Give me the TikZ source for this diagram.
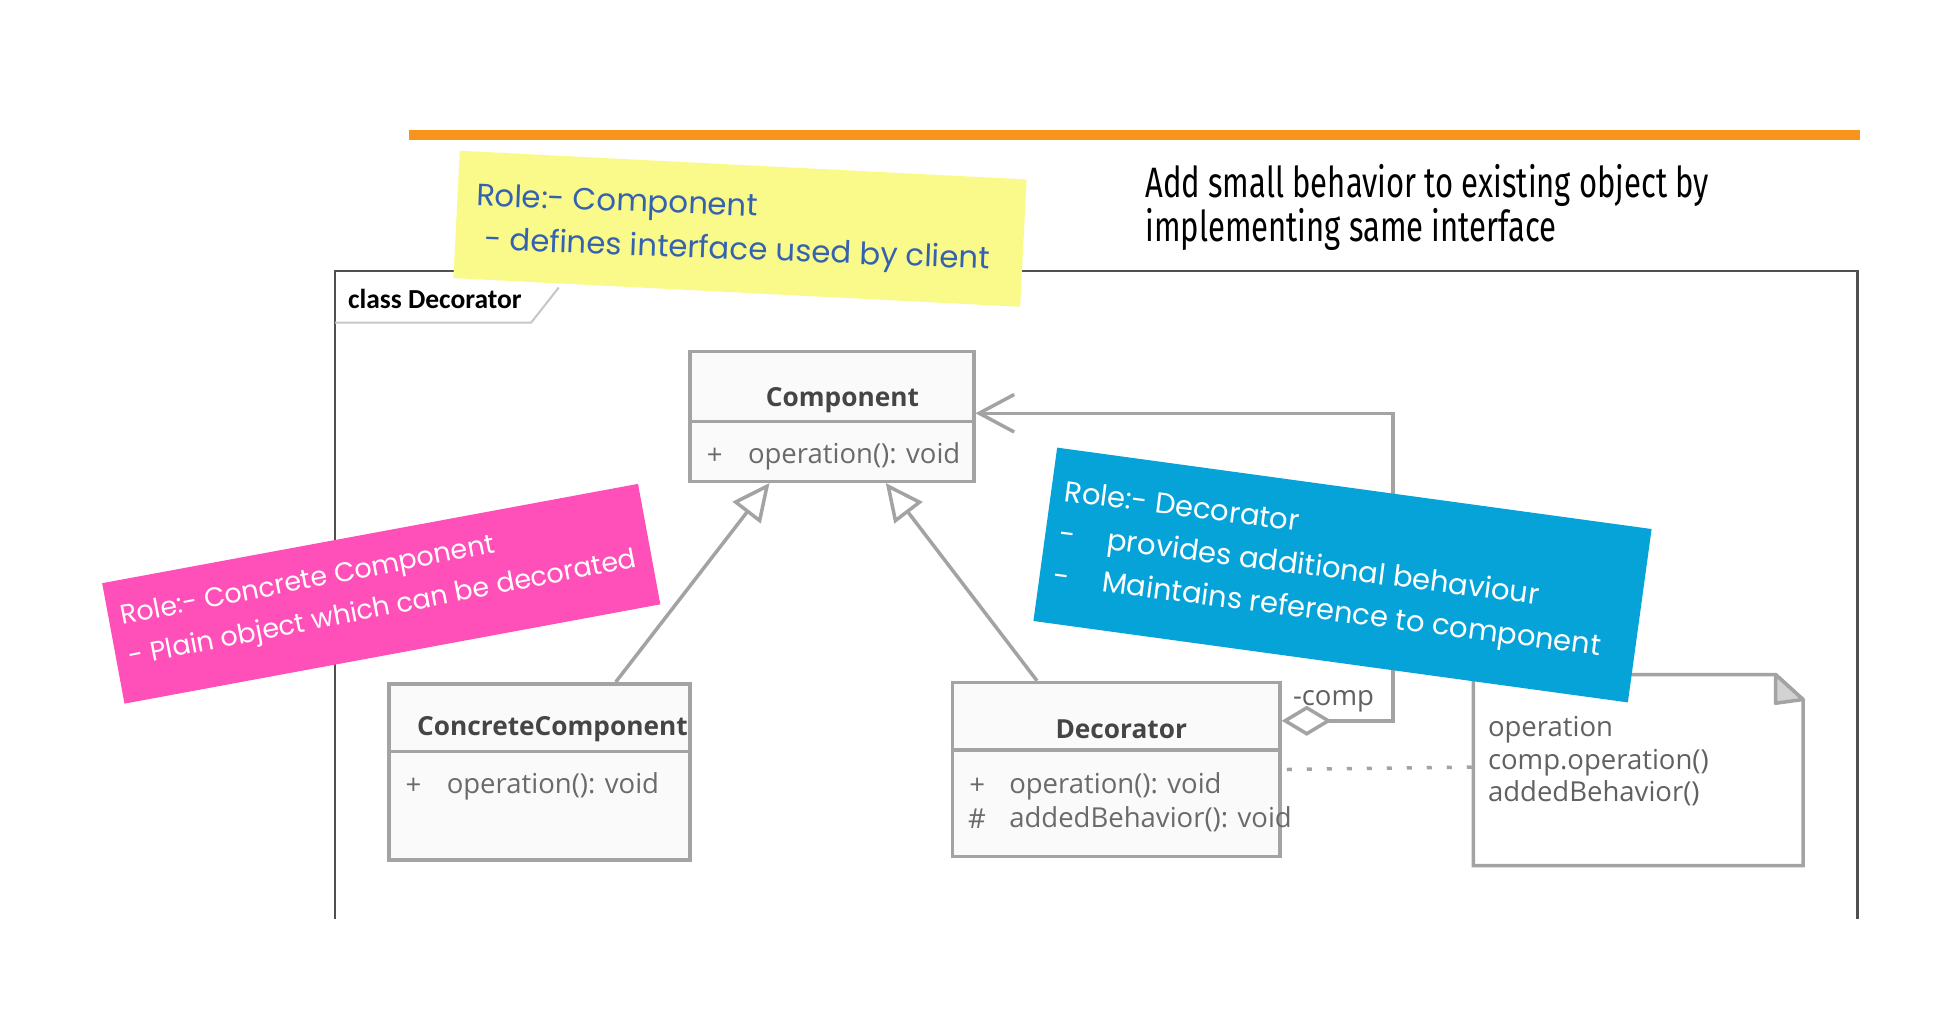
\documentclass[tikz,border=0pt]{standalone}
\usepackage{fontspec}
\setmainfont{Open Sans}
\newfontfamily\handfont{Poppins}
\newfontfamily\calfont{Carlito}
\newfontfamily\tallfont{Fira Sans}
\usetikzlibrary{arrows.meta,calc,fit}
\definecolor{orangeline}{HTML}{F7941D}
\definecolor{umlgray}{HTML}{A3A3A3}
\definecolor{umlfill}{HTML}{FAFAFA}
\definecolor{umltext}{HTML}{454545}
\definecolor{attrtext}{HTML}{6A6A6A}
\definecolor{yellownote}{HTML}{FAFA8A}
\definecolor{pinknote}{HTML}{FF50B9}
\definecolor{bluenote}{HTML}{06A3D9}
\definecolor{penblue}{HTML}{3562B0}
\definecolor{framegray}{HTML}{505050}
\definecolor{foldgray}{HTML}{D2D2D2}
\begin{document}
\begin{tikzpicture}[x=0.5pt,y=0.5pt,
  umlbox/.style={draw=umlgray, fill=umlfill, line width=1.4pt, inner sep=0pt},
  umlline/.style={draw=umlgray, line width=1.4pt},
  clsname/.style={font=\bfseries\fontsize{10.5}{12}\selectfont, text=umltext, inner sep=0pt},
  attr/.style={font=\fontsize{11}{12}\selectfont, text=attrtext, anchor=west, inner sep=0pt},
  gen/.style={draw=umlgray, line width=1.4pt, -{Triangle[open, length=15pt, width=14pt]}},
  agg/.style={draw=umlgray, line width=1.4pt, {Diamond[open, length=20pt, width=12pt]}-{Straight Barb[length=14pt, width=15pt]}},
  notelink/.style={draw=umlgray, line width=1.4pt, dash pattern=on 2pt off 6pt},
  sticky/.style={inner sep=0pt, draw=none},
  handtxt/.style={inner sep=0pt, anchor=west, align=left},
]
\useasboundingbox (0,0) rectangle (1568,-814);
\fill[white] (0,0) rectangle (1568,-814);

% orange rule
\draw[orangeline, line width=4pt] (327,-108) -- (1488,-108);

% heading text
\node[font=\tallfont\fontsize{17}{16.5}\selectfont, xscale=0.73, anchor=west, align=left, inner sep=0pt] (head) at (916,-166) {Add small behavior to existing object by\\implementing same interface};

% frame
\draw[framegray, line width=0.9pt] (268,-735) -- (268,-217) -- (1486,-217) -- (1486,-735);
\draw[gray!45, line width=0.8pt] (268,-258) -- (425,-258) -- (447,-230);
\node[font=\calfont\bfseries\fontsize{11}{13}\selectfont, anchor=west, inner sep=0pt] (frametitle) at (278,-239) {class Decorator};

% Component
\node[umlbox, fit={(552,-281) (779,-385)}] (comp) {};
\draw[umlline] (comp.west |- 0,-337) -- (comp.east |- 0,-337);
\node[clsname] (compname) at (674,-320) {Component};
\node[attr] (compvis) at (565,-365) {+};
\node[attr] (compop) at (598,-365) {operation(): void};

% ConcreteComponent
\node[umlbox, fit={(311,-547) (552,-688)}] (cc) {};
\draw[umlline] (cc.west |- 0,-601) -- (cc.east |- 0,-601);
\node[clsname] (ccname) at (442,-583) {ConcreteComponent};
\node[attr] (ccvis) at (324,-629) {+};
\node[attr] (ccop) at (357,-629) {operation(): void};

% Decorator
\node[umlbox, fit={(762,-546) (1024,-685)}] (dec) {};
\draw[umlline] (dec.west |- 0,-600) -- (dec.east |- 0,-600);
\node[clsname] (decname) at (897,-583) {Decorator};
\node[attr] (decvis1) at (775,-629) {+};
\node[attr] (decop1) at (807,-629) {operation(): void};
\node[attr] (decvis2) at (774,-655) {\#};
\node[attr] (decop2) at (807,-655) {addedBehavior(): void};

% note
\node[fit={(1179,-540) (1442,-692)}, inner sep=0pt] (nt) {};
\draw[umlline, fill=white] (nt.north west) -- ($(nt.north east)+(-22,0)$) -- ($(nt.north east)+(0,-20)$) -- (nt.south east) -- (nt.south west) -- cycle;
\draw[umlline, fill=foldgray, line join=round] ($(nt.north east)+(-22,0)$) -- ($(nt.north east)+(-22,-23)$) -- ($(nt.north east)+(0,-20)$) -- cycle;
\node[attr, text=umltext!85, align=left, font=\fontsize{11}{13}\selectfont] (nttext) at (1190,-609) {operation\\comp.operation()\\addedBehavior()};

% connectors
\draw[gen] ($(cc.north west)+(183,0)$) -- ($(comp.south west)+(65,0)$);
\draw[gen] ($(dec.north west)+(69,0)$) -- ($(comp.south west)+(158,0)$);
\draw[agg] ($(dec.north east)+(0,-32)$) -- ++(89,0) |- ($(comp.north east)+(0,-51)$);
\node[attr, text=umltext!85] (complabel) at (1034,-561) {-comp};
\draw[notelink] ($(dec.north east)+(4,-71)$) -- ($(nt.north west)+(0,-74)$);

% sticky notes
\node[sticky, fill=yellownote, rotate=-2.9, minimum width=227pt, minimum height=51pt] (ynote) at (592,-183) {};
\node[handtxt, text=penblue, rotate=-2.2, font=\handfont\fontsize{12.3}{17.5}\selectfont] (ytext) at (380,-176) {Role:- Component\\\hspace{4pt}- defines interface used by client};

\node[sticky, fill=pinknote, rotate=10.5, minimum width=218pt, minimum height=49pt] (pnote) at (305,-475) {};
\node[handtxt, text=white, rotate=11, font=\handfont\fontsize{10.8}{16.5}\selectfont] (ptext) at (100,-511) {Role:- Concrete Component\\- Plain object which can be decorated};

\node[sticky, fill=bluenote, rotate=-7.8, minimum width=240pt, minimum height=70pt] (bnote) at (1074,-460) {};
\node[handtxt, text=white, rotate=-7.3, font=\handfont\fontsize{11.6}{17}\selectfont] (btext) at (847,-429) {Role:- Decorator\\-\hspace{13pt}provides additional behaviour\\-\hspace{13pt}Maintains reference to component};
\end{tikzpicture}
\end{document}
